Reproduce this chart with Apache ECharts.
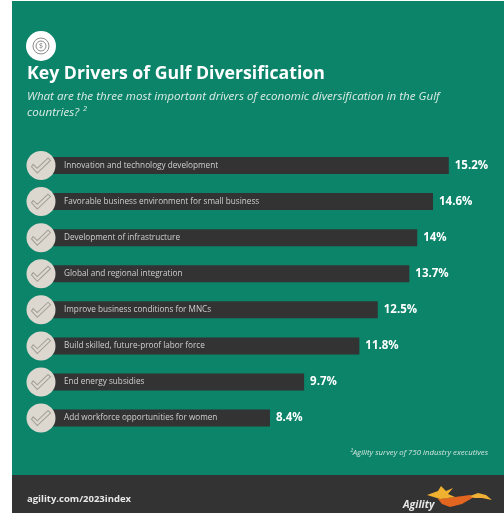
<!DOCTYPE html>
<html>
<head>
<meta charset="utf-8">
<style>html,body{margin:0;padding:0;background:#fff}#chart{width:504px;height:513px}</style>
<script src="https://cdn.jsdelivr.net/npm/echarts@6/dist/echarts.min.js"></script>
</head>
<body>
<div id="chart"></div>
<script>
// Survey results: share of executives naming each diversification driver
const categories = [
  'Innovation and technology development',
  'Favorable business environment for small business',
  'Development of infrastructure',
  'Global and regional integration',
  'Improve business conditions for MNCs',
  'Build skilled, future-proof labor force',
  'End energy subsidies',
  'Add workforce opportunities for women'
];
const values = [15.2, 14.6, 14, 13.7, 12.5, 11.8, 9.7, 8.4];

const GREEN = '#0b8469', DARK = '#333333', BADGE = '#dcd8cf', FONT = '"Open Sans"';
const CHECK = 'path://M2 13 L4 10 L9 15 L22 2 L25 5 L9 21 Z';

const chart = echarts.init(document.getElementById('chart'), null, {renderer: 'canvas'});
chart.setOption({
  animation: false,
  backgroundColor: '#ffffff',
  title: [
    {text: 'Key Drivers of Gulf Diversification', left: 22, top: 60,
     textStyle: {fontFamily: FONT, fontWeight: 700, fontSize: 17.7, color: '#ffffff'}},
    {text: 'What are the three most important drivers of economic diversification in the Gulf\ncountries? ²', left: 22, top: 84,
     textStyle: {fontFamily: FONT, fontStyle: 'italic', fontWeight: 400, fontSize: 11.6, lineHeight: 16, color: '#dcebe6'}},
    {text: '²Agility survey of 750 industry executives', right: 11, top: 444,
     textStyle: {fontFamily: FONT, fontStyle: 'italic', fontWeight: 400, fontSize: 7.8, color: '#d5e6e0'}},
    {text: 'agility.com/2023index', left: 22, top: 489,
     textStyle: {fontFamily: FONT, fontWeight: 700, fontSize: 9.5, color: '#e8e8e8'}}
  ],
  grid: {left: 49, top: 147.5, width: 263 * 1.52, height: 288.6, containLabel: false},
  xAxis: {type: 'value', min: 0, max: 15.2, show: false},
  yAxis: {
    type: 'category', data: categories, inverse: true, z: 5,
    axisLine: {show: false}, axisTick: {show: false},
    axisLabel: {inside: true, margin: 15, fontFamily: FONT, fontSize: 8.2, color: '#cfcfcf'}
  },
  series: [
    {
      type: 'bar', data: values, barWidth: 17, z: 2,
      itemStyle: {color: DARK},
      label: {show: true, position: 'right', distance: 6, formatter: p => p.value + '%',
              fontFamily: FONT, fontWeight: 700, fontSize: 11.5, color: '#ffffff'}
    },
    {
      // Round badge at the start of each bar
      type: 'scatter', data: values.map((_, i) => [0, i]), symbol: 'circle', symbolSize: 29,
      symbolOffset: [-8, 0], z: 3, itemStyle: {color: BADGE, opacity: 1}
    },
    {
      // Tick drawn on each badge
      type: 'scatter', data: values.map((_, i) => [0, i]), symbol: CHECK, symbolSize: [19, 15],
      symbolOffset: [-8, 0], z: 4,
      itemStyle: {color: 'none', borderColor: '#a19e96', borderWidth: 1, opacity: 1}
    }
  ],
  graphic: [
    {type: 'rect', z: -2, shape: {x: 12, y: 1, width: 492, height: 475}, style: {fill: GREEN}},
    {type: 'rect', z: -2, shape: {x: 12, y: 475, width: 492, height: 38}, style: {fill: DARK}},
    // Header emblem
    {type: 'circle', z: 1, shape: {cx: 41, cy: 46, r: 15}, style: {fill: '#ffffff'}},
    {type: 'circle', z: 1, shape: {cx: 41, cy: 46, r: 8}, style: {fill: 'none', stroke: '#8a8a8a', lineWidth: 1}},
    {type: 'circle', z: 1, shape: {cx: 41, cy: 46, r: 5}, style: {fill: 'none', stroke: '#8a8a8a', lineWidth: 1}},
    {type: 'text', z: 1, style: {x: 41, y: 46, text: '$', fill: '#777777', font: '7px "Open Sans"', align: 'center', verticalAlign: 'middle'}},
    // Footer logo
    {type: 'polygon', z: 1, shape: {points: [[438,499],[455,497],[470,495],[474,497],[462,504],[450,507],[442,504]]}, style: {fill: '#e2661f'}},
    {type: 'polygon', z: 1, shape: {points: [[427,495],[438,491],[441,486],[446,491],[453,488],[448,494],[455,497],[440,499]]}, style: {fill: '#f0b030'}},
    {type: 'polygon', z: 1, shape: {points: [[470,496],[478,493],[486,495],[492,500],[482,498],[474,498]]}, style: {fill: '#eeb035'}},
    {type: 'text', z: 1, style: {x: 403, y: 505, text: 'Agility', fill: '#e8e8e8', font: 'italic 700 10.5px "Open Sans"', align: 'left', verticalAlign: 'middle'}}
  ]
});
</script>
</body>
</html>
